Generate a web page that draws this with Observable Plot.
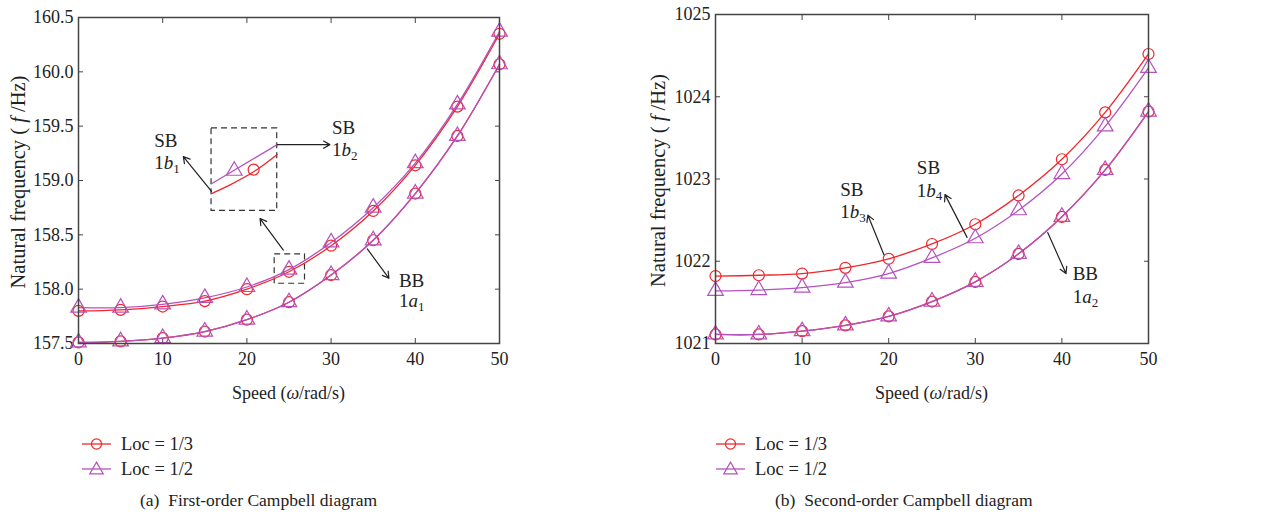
<!DOCTYPE html>
<html><head><meta charset="utf-8">
<script src="https://cdn.jsdelivr.net/npm/d3@7"></script>
<script src="https://cdn.jsdelivr.net/npm/@observablehq/plot@0.6"></script>
<style>
body{margin:0;background:#fff;font-family:"Liberation Serif",serif;color:#222}
#root{position:relative;width:1277px;height:520px;overflow:hidden;background:#fff}
.panel{position:absolute;top:0}
.leg{position:absolute;font-size:18.5px;display:flex;align-items:center;height:20px;white-space:pre}
.leg svg{margin-right:10px}
.cap{position:absolute;font-size:17.5px;white-space:pre;line-height:20px}
</style></head><body><div id="root"></div>
<script>
// ---- data ----
const speed = [0, 5, 10, 15, 20, 25, 30, 35, 40, 45, 50];
const xTicks = [0, 10, 20, 30, 40, 50];
// first order (a)
const firstSB_loc13 = [157.80, 157.81, 157.84, 157.89, 158.00, 158.16, 158.40, 158.72, 159.14, 159.68, 160.35];
const firstSB_loc12 = [157.83, 157.83, 157.86, 157.92, 158.02, 158.18, 158.43, 158.75, 159.16, 159.70, 160.37];
const firstBB_loc13 = [157.51, 157.52, 157.55, 157.61, 157.72, 157.88, 158.13, 158.45, 158.88, 159.41, 160.07];
const firstBB_loc12 = [157.51, 157.52, 157.55, 157.61, 157.72, 157.88, 158.13, 158.45, 158.88, 159.41, 160.07];
const firstYTicks = [157.5, 158.0, 158.5, 159.0, 159.5, 160.0, 160.5];
// second order (b)
const secondSB_loc13 = [1021.82, 1021.83, 1021.85, 1021.92, 1022.03, 1022.21, 1022.45, 1022.80, 1023.24, 1023.81, 1024.52];
const secondSB_loc12 = [1021.64, 1021.65, 1021.68, 1021.74, 1021.85, 1022.04, 1022.28, 1022.62, 1023.06, 1023.64, 1024.35];
const secondBB_loc13 = [1021.11, 1021.11, 1021.15, 1021.22, 1021.33, 1021.51, 1021.75, 1022.09, 1022.54, 1023.11, 1023.82];
const secondBB_loc12 = [1021.11, 1021.11, 1021.15, 1021.22, 1021.33, 1021.51, 1021.75, 1022.09, 1022.54, 1023.11, 1023.82];
const secondYTicks = [1021, 1022, 1023, 1024, 1025];
const legendLabels = ["Loc = 1/3", "Loc = 1/2"];
const captions = ["(a)  First-order Campbell diagram", "(b)  Second-order Campbell diagram"];

// annotations (a)
const firstNotes = [
  {x: 9.0, y: 159.36, t: "SB"}, {x: 9.0, y: 159.16, t: "1b1"},
  {x: 30.1, y: 159.48, t: "SB"}, {x: 30.1, y: 159.28, t: "1b2"},
  {x: 38.05, y: 158.08, t: "BB"}, {x: 38.05, y: 157.89, t: "1a1"}
];
const firstArrows = [
  {x1: 15.8, y1: 158.90, x2: 12.45, y2: 159.22},
  {x1: 23.6, y1: 159.33, x2: 29.85, y2: 159.33},
  {x1: 24.33, y1: 158.36, x2: 21.56, y2: 158.65},
  {x1: 34.3, y1: 158.37, x2: 36.87, y2: 158.10}
];
const firstBoxes = [
  {x1: 15.8, x2: 23.6, y1: 158.72, y2: 159.48},
  {x1: 23.3, x2: 26.9, y1: 158.05, y2: 158.32}
];
const insetRed = [{x: 15.8, y: 158.88}, {x: 18, y: 158.96}, {x: 20.8, y: 159.08}, {x: 23.6, y: 159.24}];
const insetPurple = [{x: 15.8, y: 158.97}, {x: 23.6, y: 159.33}];
const insetCircle = [{x: 20.8, y: 159.10}];
const insetTriangle = [{x: 18.5, y: 159.09}];

// annotations (b)
const secondNotes = [
  {x: 14.4, y: 1022.87, t: "SB"}, {x: 14.4, y: 1022.60, t: "1b3"},
  {x: 23.25, y: 1023.13, t: "SB"}, {x: 23.25, y: 1022.86, t: "1b4"},
  {x: 41.24, y: 1021.85, t: "BB"}, {x: 41.24, y: 1021.57, t: "1a2"}
];
const secondArrows = [
  {x1: 19.45, y1: 1022.08, x2: 17.6, y2: 1022.56},
  {x1: 29.05, y1: 1022.29, x2: 26.5, y2: 1022.81},
  {x1: 38.36, y1: 1022.35, x2: 40.47, y2: 1021.85}
];

const RED = "#f0262b";
const PURPLE = "#b552be";
const AX = "#444";
const FONT = '"Liberation Serif", serif';

function rows(ys) { return speed.map((s, i) => ({speed: s, f: ys[i]})); }

function seriesMarks(red, purple) {
  return [
    Plot.line(rows(red), {x: "speed", y: "f", stroke: RED, strokeWidth: 1.3, curve: "catmull-rom"}),
    Plot.line(rows(purple), {x: "speed", y: "f", stroke: PURPLE, strokeWidth: 1.3, curve: "catmull-rom"}),
    Plot.dot(rows(red), {x: "speed", y: "f", symbol: "circle", r: 5.5, stroke: RED, fill: "none", strokeWidth: 1.2}),
    Plot.dot(rows(purple), {x: "speed", y: "f", symbol: "triangle", r: 5.8, stroke: PURPLE, fill: "none", strokeWidth: 1.2})
  ];
}

function makePanel(cfg) {
  const marks = [
    Plot.axisX({ticks: xTicks, anchor: "bottom", tickSize: 5, dy: -5, fill: "none", stroke: AX, label: null}),
    Plot.axisX({ticks: xTicks, anchor: "top", tickSize: 5, dy: 5, fill: "none", stroke: AX, label: null}),
    Plot.axisY({ticks: cfg.yTicks, anchor: "left", tickSize: 5, dx: 5, fill: "none", stroke: AX, label: null}),
    Plot.axisY({ticks: cfg.yTicks, anchor: "right", tickSize: 5, dx: -5, fill: "none", stroke: AX, label: null}),
    Plot.axisX({ticks: xTicks, anchor: "bottom", tickSize: 0, tickPadding: 9, label: null, fill: "#222"}),
    Plot.axisY({ticks: cfg.yTicks, anchor: "left", tickSize: 0, tickPadding: 5, tickFormat: cfg.yFmt, label: null, fill: "#222"}),
    ...cfg.extraBack,
    ...seriesMarks(cfg.sb13, cfg.sb12),
    ...seriesMarks(cfg.bb13, cfg.bb12),
    Plot.arrow(cfg.arrows, {x1: "x1", y1: "y1", x2: "x2", y2: "y2", stroke: "#222", strokeWidth: 1.2, headLength: 9}),
    Plot.text(cfg.notes, {x: "x", y: "y", text: "t", textAnchor: "start", fontSize: 19, fill: "#222"}),
    Plot.frame({stroke: AX, strokeWidth: 1.5})
  ];
  const svg = Plot.plot({
    width: cfg.width, height: cfg.height,
    marginLeft: cfg.ml, marginRight: cfg.mr, marginTop: cfg.mt, marginBottom: cfg.mb,
    x: {domain: [0, 50]},
    y: {domain: cfg.yDomain},
    style: {fontFamily: FONT, fontSize: "18px", color: "#222", background: "transparent", overflow: "visible"},
    marks
  });
  // rich-text annotation labels like 1b1 -> 1 + italic b + subscript 1
  svg.querySelectorAll("text").forEach(t => {
    const s = t.textContent;
    if (/^1[ab]\d$/.test(s)) {
      t.textContent = "";
      const sel = d3.select(t);
      sel.append("tspan").text(s[0]);
      sel.append("tspan").attr("font-style", "italic").text(s[1]);
      sel.append("tspan").attr("font-size", "13px").attr("dy", "0.3em").text(s[2]);
    }
  });
  const S = d3.select(svg);
  const cx = cfg.ml + (cfg.width - cfg.ml - cfg.mr) / 2;
  const cy = cfg.mt + (cfg.height - cfg.mt - cfg.mb) / 2;
  const yl = S.append("text").attr("transform", `translate(${cfg.ylx},${cy + 2}) rotate(-90)`)
    .attr("text-anchor", "middle").attr("dy", "0.35em").attr("font-size", "20.5px").attr("fill", "#222");
  yl.append("tspan").text("Natural frequency ( ");
  yl.append("tspan").attr("font-style", "italic").text("f");
  yl.append("tspan").text(" /Hz)");
  const xl = S.append("text").attr("x", cx).attr("y", cfg.xly)
    .attr("text-anchor", "middle").attr("dy", "0.35em").attr("font-size", "18px").attr("fill", "#222");
  xl.append("tspan").text("Speed (");
  xl.append("tspan").attr("font-style", "italic").text("ω");
  xl.append("tspan").text("/rad/s)");
  return svg;
}

const root = document.getElementById("root");

const left = makePanel({
  width: 640, height: 410, ml: 78, mr: 141, mt: 17, mb: 67,
  yDomain: [157.5, 160.5], yTicks: firstYTicks, yFmt: d3.format(".1f"),
  sb13: firstSB_loc13, sb12: firstSB_loc12, bb13: firstBB_loc13, bb12: firstBB_loc12,
  notes: firstNotes, arrows: firstArrows, ylx: 18, xly: 393,
  extraBack: [
    Plot.rect(firstBoxes, {x1: "x1", x2: "x2", y1: "y1", y2: "y2", fill: "none", stroke: "#333", strokeWidth: 1.2, strokeDasharray: "6,4"}),
    Plot.line(insetRed, {x: "x", y: "y", stroke: RED, strokeWidth: 1.3, curve: "catmull-rom"}),
    Plot.line(insetPurple, {x: "x", y: "y", stroke: PURPLE, strokeWidth: 1.3}),
    Plot.dot(insetCircle, {x: "x", y: "y", symbol: "circle", r: 5.5, stroke: RED, fill: "none", strokeWidth: 1.2}),
    Plot.dot(insetTriangle, {x: "x", y: "y", symbol: "triangle", r: 5.8, stroke: PURPLE, fill: "none", strokeWidth: 1.2})
  ]
});
const lp = document.createElement("div"); lp.className = "panel"; lp.style.left = "0px"; lp.appendChild(left); root.appendChild(lp);

const right = makePanel({
  width: 637, height: 410, ml: 75, mr: 129, mt: 14, mb: 67,
  yDomain: [1021, 1025], yTicks: secondYTicks, yFmt: d3.format("d"),
  sb13: secondSB_loc13, sb12: secondSB_loc12, bb13: secondBB_loc13, bb12: secondBB_loc12,
  notes: secondNotes, arrows: secondArrows, ylx: 18, xly: 393,
  extraBack: []
});
const rp = document.createElement("div"); rp.className = "panel"; rp.style.left = "640px"; rp.appendChild(right); root.appendChild(rp);

function symSvg(color, kind) {
  const s = d3.create("svg").attr("width", 29).attr("height", 16);
  s.append("line").attr("x1", 0).attr("x2", 29).attr("y1", 8).attr("y2", 8).attr("stroke", color).attr("stroke-width", 1.3);
  s.append("path").attr("d", d3.symbol(kind === "circle" ? d3.symbolCircle : d3.symbolTriangle, 80)())
    .attr("transform", kind === "circle" ? "translate(14.5,8)" : "translate(14.5,9)")
    .attr("fill", "none").attr("stroke", color).attr("stroke-width", 1.2);
  return s.node();
}
function legend(x) {
  [[RED, "circle", 0, 434], [PURPLE, "triangle", 1, 459]].forEach(([c, k, i, y]) => {
    const d = document.createElement("div"); d.className = "leg";
    d.style.left = x + "px"; d.style.top = y + "px";
    d.appendChild(symSvg(c, k));
    d.appendChild(document.createTextNode(legendLabels[i]));
    root.appendChild(d);
  });
}
legend(82); legend(716);
[[140, 0], [775, 1]].forEach(([x, i]) => {
  const d = document.createElement("div"); d.className = "cap";
  d.style.left = x + "px"; d.style.top = "490px"; d.textContent = captions[i];
  root.appendChild(d);
});
</script>
</body></html>
